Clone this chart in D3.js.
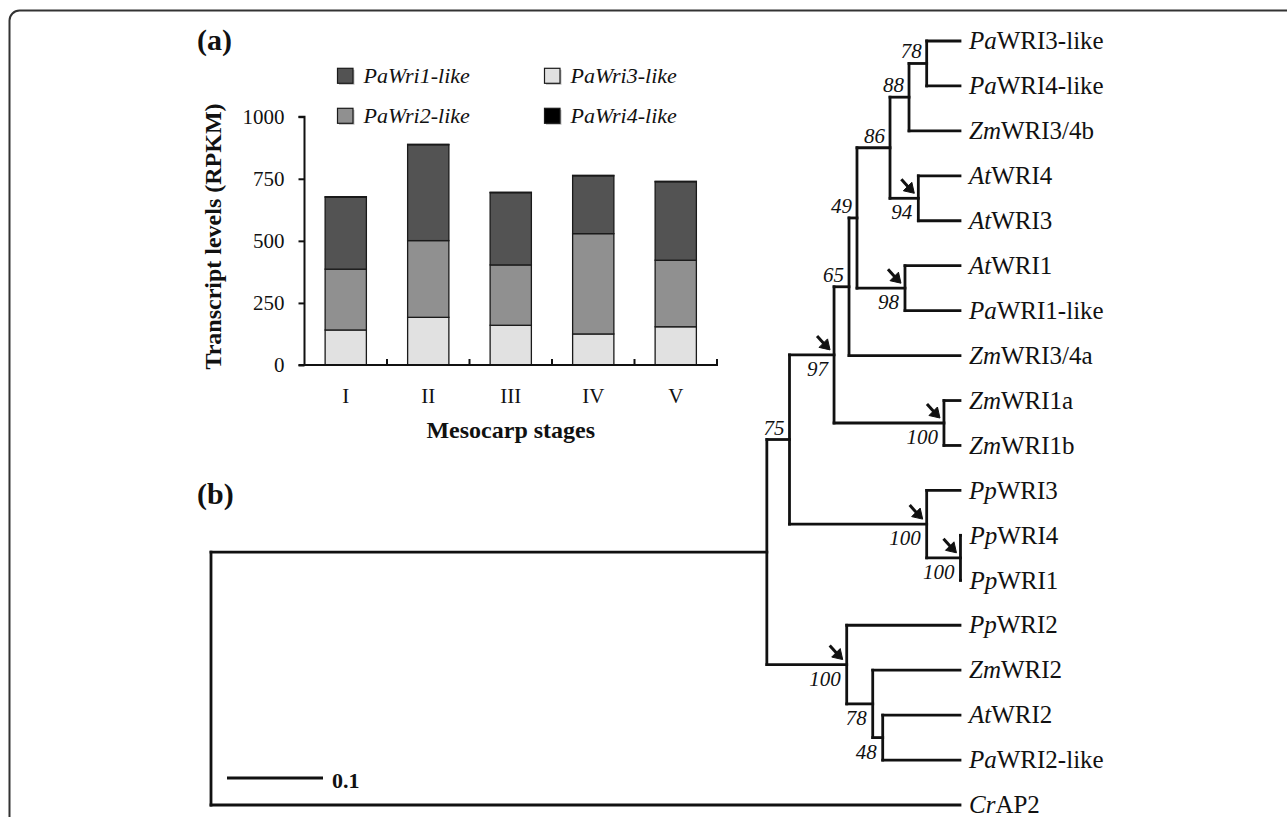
<!DOCTYPE html>
<html>
<head>
<meta charset="utf-8">
<script src="https://cdn.jsdelivr.net/npm/d3@7/dist/d3.min.js"></script>
<style>
  html, body { margin: 0; padding: 0; background: #fff; }
  svg { display: block; }
  text { font-family: "Liberation Serif", "Times New Roman", Times, serif; fill: #111; }
</style>
</head>
<body>
<svg id="chart" width="1287" height="817"></svg>
<script>
// ---------------- DATA ----------------
// (a) stacked bars
const stages = ["I", "II", "III", "IV", "V"];
const seriesNames = ["PaWri1-like", "PaWri2-like", "PaWri3-like", "PaWri4-like"];
const wri1 = [290, 386, 291, 233, 316];
const wri2 = [245, 309, 243, 404, 268];
const wri3 = [141, 192, 160, 125, 154];
const wri4 = [2, 2, 2, 2, 2];
const yTicks = [0, 250, 500, 750, 1000];

// (b) tree: [id, parent, branch length, bootstrap, marked clade]
const treeNodes = [
  ["root", "", 0, "", false],
  ["In", "root", 0.579, "", false],
  ["N75", "In", 0.0236, "75", false],
  ["N97", "N75", 0.0464, "97", true],
  ["N65", "N97", 0.0156, "65", false],
  ["N49", "N65", 0.0083, "49", false],
  ["N86", "N49", 0.0344, "86", false],
  ["N88", "N86", 0.0198, "88", false],
  ["N78a", "N88", 0.0184, "78", false],
  ["PaWRI3-like", "N78a", 0.0347, "", false],
  ["PaWRI4-like", "N78a", 0.0347, "", false],
  ["ZmWRI3/4b", "N88", 0.0531, "", false],
  ["N94", "N86", 0.0295, "94", true],
  ["AtWRI4", "N94", 0.0434, "", false],
  ["AtWRI3", "N94", 0.0434, "", false],
  ["N98", "N49", 0.05, "98", true],
  ["AtWRI1", "N98", 0.0573, "", false],
  ["PaWRI1-like", "N98", 0.0573, "", false],
  ["ZmWRI3/4a", "N65", 0.1156, "", false],
  ["N100a", "N97", 0.1145, "100", true],
  ["ZmWRI1a", "N100a", 0.0167, "", false],
  ["ZmWRI1b", "N100a", 0.0167, "", false],
  ["N100b", "N75", 0.1429, "100", true],
  ["PpWRI3", "N100b", 0.0347, "", false],
  ["N100c", "N100b", 0.0352, "100", true],
  ["PpWRI4", "N100c", 0, "", false],
  ["PpWRI1", "N100c", 0, "", false],
  ["N100d", "In", 0.0832, "100", true],
  ["PpWRI2", "N100d", 0.118, "", false],
  ["N78b", "N100d", 0.0271, "78", false],
  ["ZmWRI2", "N78b", 0.0909, "", false],
  ["N48", "N78b", 0.0104, "48", false],
  ["AtWRI2", "N48", 0.0805, "", false],
  ["PaWRI2-like", "N48", 0.0805, "", false],
  ["CrAP2", "root", 0.7802, "", false]
];
const scaleBarValue = 0.1;

// ---------------- DRAW ----------------
const svg = d3.select("#chart");
svg.append("rect").attr("width", 1287).attr("height", 817).attr("fill", "#fff");

// frame
svg.append("rect")
  .attr("x", 9.5).attr("y", 10.5)
  .attr("width", 1290).attr("height", 900)
  .attr("rx", 10).attr("ry", 10)
  .attr("fill", "none").attr("stroke", "#333").attr("stroke-width", 2);

// panel labels
svg.append("text").attr("x", 197).attr("y", 50)
  .attr("font-size", 30).attr("font-weight", "bold").text("(a)");
svg.append("text").attr("x", 197).attr("y", 504)
  .attr("font-size", 30).attr("font-weight", "bold").text("(b)");

// ----- (a) bar chart -----
const colors = { "PaWri1-like": "#535353", "PaWri2-like": "#909090", "PaWri3-like": "#e1e1e1", "PaWri4-like": "#000000" };
const table = stages.map((s, i) => ({
  stage: s,
  "PaWri1-like": wri1[i], "PaWri2-like": wri2[i], "PaWri3-like": wri3[i], "PaWri4-like": wri4[i]
}));
const stackOrder = ["PaWri3-like", "PaWri2-like", "PaWri1-like", "PaWri4-like"];
const stacked = d3.stack().keys(stackOrder)(table);

const x = d3.scaleBand().domain(stages).range([304.5, 717]).paddingInner(0.5).paddingOuter(0.25);
const y = d3.scaleLinear().domain([0, 1000]).range([365, 116.7]);

const gBars = svg.append("g");
stacked.forEach(layer => {
  gBars.selectAll(null).data(layer).join("rect")
    .attr("x", d => x(d.data.stage))
    .attr("width", x.bandwidth())
    .attr("y", d => y(d[1]))
    .attr("height", d => Math.max(0, y(d[0]) - y(d[1])))
    .attr("fill", colors[layer.key])
    .attr("stroke", "#1a1a1a").attr("stroke-width", 1.3);
});

// y axis
const yAxis = d3.axisLeft(y).tickValues(yTicks).tickSize(6).tickPadding(14).tickFormat(d3.format("d"));
const gy = svg.append("g").attr("transform", "translate(304.5,0)").call(yAxis);
gy.select(".domain").attr("stroke", "#111").attr("stroke-width", 2).attr("d", `M-6,${y(1000)}H0V${y(0)}`);
gy.selectAll(".tick line").attr("stroke", "#111").attr("stroke-width", 2);
gy.selectAll(".tick text").attr("font-size", 21).attr("fill", "#111");

// x axis
const gx = svg.append("g").attr("transform", `translate(0,${y(0)})`);
gx.append("line").attr("x1", 298.5).attr("x2", x.range()[1] + 1).attr("y1", 0).attr("y2", 0)
  .attr("stroke", "#111").attr("stroke-width", 2);
const step = x.step();
const boundaries = stages.map((s, i) => x.range()[0] + step * (i + 1));
gx.selectAll(null).data(boundaries).join("line")
  .attr("x1", d => d).attr("x2", d => d).attr("y1", 0).attr("y2", -6)
  .attr("stroke", "#111").attr("stroke-width", 2);
gx.selectAll(null).data(stages).join("text")
  .attr("x", d => x(d) + x.bandwidth() / 2).attr("y", 38)
  .attr("text-anchor", "middle").attr("font-size", 21).text(d => d);

// axis titles
svg.append("text")
  .attr("transform", "translate(221,236.5) rotate(-90)")
  .attr("text-anchor", "middle").attr("font-size", 24).attr("font-weight", "bold")
  .text("Transcript levels (RPKM)");
svg.append("text")
  .attr("x", (x.range()[0] + x.range()[1]) / 2).attr("y", 438)
  .attr("text-anchor", "middle").attr("font-size", 24).attr("font-weight", "bold")
  .text("Mesocarp stages");

// legend (2 x 2)
const legendPos = {
  "PaWri1-like": [337.5, 68.3], "PaWri2-like": [337.5, 108.3],
  "PaWri3-like": [544.5, 68.3], "PaWri4-like": [544.5, 108.3]
};
seriesNames.forEach(n => {
  const [lx, ly] = legendPos[n];
  svg.append("rect").attr("x", lx + 1.5).attr("y", ly + 1.5).attr("width", 15.5).attr("height", 15)
    .attr("fill", "#bdbdbd");
  svg.append("rect").attr("x", lx).attr("y", ly).attr("width", 15.5).attr("height", 15)
    .attr("fill", colors[n]).attr("stroke", "#1a1a1a").attr("stroke-width", 1.2);
  svg.append("text").attr("x", lx + 26).attr("y", ly + 15)
    .attr("font-size", 22).attr("font-style", "italic").text(n);
});

// ----- (b) tree -----
const root = d3.stratify()
  .id(d => d[0])
  .parentId(d => d[1] === "" ? null : d[1])(treeNodes);

const tx = d3.scaleLinear().domain([0, scaleBarValue]).range([211, 211 + 96]);
root.each(n => {
  n.dist = (n.parent ? n.parent.dist : 0) + n.data[2];
});
const leaves = root.leaves();
const ty = d3.scalePoint().domain(leaves.map(l => l.id)).range([41, 805]);
root.eachAfter(n => {
  n.px = tx(n.dist);
  if (!n.children) n.py = ty(n.id);
  else n.py = (n.children[0].py + n.children[n.children.length - 1].py) / 2;
});

const gTree = svg.append("g").attr("fill", "none").attr("stroke", "#111")
  .attr("stroke-width", 2.8).attr("stroke-linecap", "square");
// horizontal branches
root.descendants().filter(n => n.parent).forEach(n => {
  gTree.append("path").attr("d", `M${n.parent.px},${n.py}H${n.px}`);
});
// vertical connectors
root.descendants().filter(n => n.children).forEach(n => {
  const c0 = n.children[0], c1 = n.children[n.children.length - 1];
  gTree.append("path").attr("d", `M${n.px},${c0.py}V${c1.py}`);
});

// leaf labels
const gLeaf = svg.append("g");
leaves.forEach(l => {
  const t = gLeaf.append("text").attr("x", l.px + 9).attr("y", l.py).attr("dy", "0.33em")
    .attr("font-size", 25);
  t.append("tspan").attr("font-style", "italic").text(l.id.slice(0, 2));
  t.append("tspan").text(l.id.slice(2));
});

// bootstrap values & arrows
const gSup = svg.append("g");
root.descendants().filter(n => n.data[3] !== "").forEach(n => {
  const isLower = n.parent && n.parent.children.indexOf(n) === n.parent.children.length - 1;
  const below = n.data[4] || isLower;
  gSup.append("text")
    .attr("x", n.px - (below ? 6 : 5))
    .attr("y", below ? n.py + 21 : n.py - 5)
    .attr("text-anchor", "end").attr("font-size", 21).attr("font-style", "italic")
    .text(n.data[3]);
  if (n.data[4]) {
    const ax = n.px - 4, ay = n.py - 5;
    gSup.append("path")
      .attr("d", `M${ax - 13},${ay - 14}L${ax - 4},${ay - 4}`)
      .attr("stroke", "#111").attr("stroke-width", 3).attr("fill", "none");
    gSup.append("path")
      .attr("d", `M${ax},${ay}L${ax - 11},${ay - 2.5}L${ax - 7},${ay - 6.5}L${ax - 2.5},${ay - 11}Z`)
      .attr("fill", "#111").attr("stroke", "#111").attr("stroke-width", 1).attr("stroke-linejoin", "round");
  }
});

// scale bar
svg.append("path")
  .attr("d", `M${tx(0) + 16},778H${tx(0) + 16 + (tx(scaleBarValue) - tx(0))}`)
  .attr("stroke", "#111").attr("stroke-width", 2.8).attr("fill", "none");
svg.append("text").attr("x", tx(0) + 16 + (tx(scaleBarValue) - tx(0)) + 9).attr("y", 788)
  .attr("font-size", 22).attr("font-weight", "bold").text(String(scaleBarValue));
</script>
</body>
</html>
